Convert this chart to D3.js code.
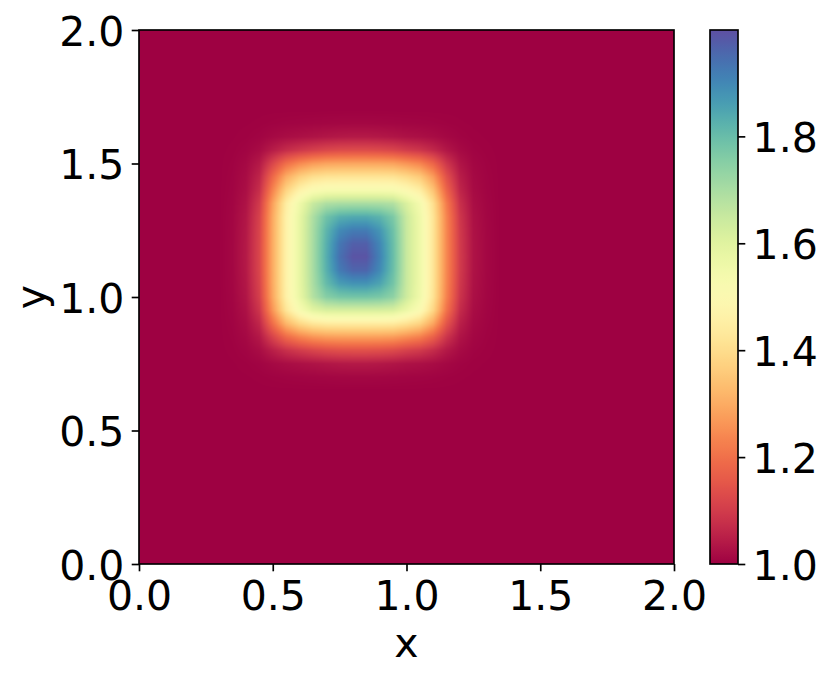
<!DOCTYPE html>
<html><head><meta charset="utf-8">
<script src="https://cdn.jsdelivr.net/npm/d3@7"></script>
<style>
body{margin:0;background:#fff}
svg{display:block}
text{font-family:"DejaVu Sans",sans-serif;fill:#000}
</style>
</head><body><svg id="chart" width="830" height="679"></svg>
<script>
// grid node coordinates (x and y)
const xNodes = [0,0.05,0.1,0.15,0.2,0.25,0.3,0.35,0.4,0.45,0.5,0.55,0.6,0.65,0.7,0.75,0.8,0.85,0.9,0.95,1,1.05,1.1,1.15,1.2,1.25,1.3,1.35,1.4,1.45,1.5,1.55,1.6,1.65,1.7,1.75,1.8,1.85,1.9,1.95,2];
const yNodes = [0,0.05,0.1,0.15,0.2,0.25,0.3,0.35,0.4,0.45,0.5,0.55,0.6,0.65,0.7,0.75,0.8,0.85,0.9,0.95,1,1.05,1.1,1.15,1.2,1.25,1.3,1.35,1.4,1.45,1.5,1.55,1.6,1.65,1.7,1.75,1.8,1.85,1.9,1.95,2];
// values read along the row through the peak (y ~ 1.15), one per xNode
const rowValues = [1.00,1.00,1.00,1.00,1.00,1.00,1.00,
  1.01,1.04,1.12,1.30,1.46,1.58,1.70,1.83,1.94,1.99,1.99,1.91,1.80,1.65,1.56,1.42,1.24,1.10,1.03,1.01,
  1.00,1.00,1.00,1.00,1.00,1.00,1.00,1.00,1.00,1.00,1.00,1.00,1.00,1.00];
// values read along the column through the peak (x ~ 0.83), one per yNode
const colValues = [1.00,1.00,1.00,1.00,1.00,1.00,1.00,1.00,1.00,1.00,1.00,1.00,1.00,1.00,
  1.01,1.04,1.14,1.28,1.44,1.62,1.78,1.88,1.96,1.99,1.97,1.92,1.84,1.70,1.53,1.42,1.29,1.13,1.04,1.01,
  1.00,1.00,1.00,1.00,1.00,1.00,1.00];
// how square the level curves are: rounded at low levels, squarer near the top
const cornerSharpness = 35, cornerSharpnessMax = 10;
const axisTicks = [0.0,0.5,1.0,1.5,2.0];
const axisTickLabels = ["0.0","0.5","1.0","1.5","2.0"];
const colorTicks = [1.0,1.2,1.4,1.6,1.8];
const colorTickLabels = ["1.0","1.2","1.4","1.6","1.8"];
const colorRange = [1.0, 1.999];
const xLabel = "x", yLabel = "y";

const svg = d3.select("#chart");
const P = {left:139, right:674, top:30, bottom:564};
const CB = {left:710, right:738, top:30, bottom:564};
const FS = 41, TL = 7.3, PAD = 7.3, LW = 1.67;

const x = d3.scaleLinear().domain([0,2]).range([P.left, P.right]);
const y = d3.scaleLinear().domain([0,2]).range([P.bottom, P.top]);
const color = d3.scaleSequential(d3.interpolateSpectral).domain(colorRange);

// build grid from the read profiles
const base = 1.0;
const peak = Math.max(d3.max(rowValues), d3.max(colValues));
function combine(ru, cu){
  const a=(ru-base)/(peak-base), b=(cu-base)/(peak-base);
  if(a<=0||b<=0) return base;
  if(a>=1) return base+(peak-base)*b;
  if(b>=1) return base+(peak-base)*a;
  const k=Math.max(0.02, Math.min(cornerSharpnessMax, cornerSharpness*(a*b)*(a*b)));
  return base+(peak-base)*Math.pow(Math.pow(a,-k)+Math.pow(b,-k)-1,-1/k);
}
const grid = yNodes.map((yy,j)=>xNodes.map((xx,i)=>combine(rowValues[i],colValues[j])));

// render heat image (bilinear display smoothing)
const iw = Math.round(P.right-P.left), ih = Math.round(P.bottom-P.top);
const cv = document.createElement("canvas"); cv.width=iw; cv.height=ih;
const ctx = cv.getContext("2d");
const img = ctx.createImageData(iw, ih);
const fx = d3.scaleLinear().domain([xNodes[0], xNodes[xNodes.length-1]]).range([0, xNodes.length-1]).clamp(true);
const fy = d3.scaleLinear().domain([yNodes[0], yNodes[yNodes.length-1]]).range([0, yNodes.length-1]).clamp(true);
const nx = xNodes.length, ny = yNodes.length;
for(let r=0;r<ih;r++){
  const gy = fy(y.invert(P.top+r+0.5));
  const j0 = Math.min(Math.floor(gy), ny-2), ty = gy-j0;
  for(let c=0;c<iw;c++){
    const gx = fx(x.invert(P.left+c+0.5));
    const i0 = Math.min(Math.floor(gx), nx-2), tx = gx-i0;
    const v = (1-ty)*((1-tx)*grid[j0][i0]+tx*grid[j0][i0+1]) + ty*((1-tx)*grid[j0+1][i0]+tx*grid[j0+1][i0+1]);
    const col = d3.rgb(color(v));
    const k = (r*iw+c)*4;
    img.data[k]=col.r; img.data[k+1]=col.g; img.data[k+2]=col.b; img.data[k+3]=255;
  }
}
ctx.putImageData(img,0,0);
svg.append("image").attr("x",P.left).attr("y",P.top).attr("width",iw).attr("height",ih)
  .attr("preserveAspectRatio","none").attr("href",cv.toDataURL());

// axes
function styleAxis(g){
  g.select(".domain").remove();
  g.selectAll(".tick line").attr("stroke","#000").attr("stroke-width",LW);
  g.selectAll(".tick text").attr("font-size",FS).attr("font-family","DejaVu Sans").attr("fill","#000");
}
const gx = svg.append("g").attr("transform",`translate(0,${P.bottom})`)
  .call(d3.axisBottom(x).tickValues(axisTicks).tickFormat((d,i)=>axisTickLabels[i]).tickSize(TL).tickPadding(PAD));
styleAxis(gx);
gx.selectAll(".tick text").attr("dy",null).attr("y",46);

const gy = svg.append("g").attr("transform",`translate(${P.left},0)`)
  .call(d3.axisLeft(y).tickValues(axisTicks).tickFormat((d,i)=>axisTickLabels[i]).tickSize(TL).tickPadding(PAD));
styleAxis(gy);
gy.selectAll(".tick text").attr("dy",null).attr("y",15);

svg.append("rect").attr("x",P.left).attr("y",P.top).attr("width",P.right-P.left).attr("height",P.bottom-P.top)
  .attr("fill","none").attr("stroke","#000").attr("stroke-width",LW);

svg.append("text").attr("x",(P.left+P.right)/2).attr("y",657).attr("text-anchor","middle").attr("font-size",FS).text(xLabel);
svg.append("text").attr("transform",`translate(45,${(P.top+P.bottom)/2}) rotate(-90)`).attr("text-anchor","middle").attr("font-size",FS).text(yLabel);

// colorbar
const cScale = d3.scaleLinear().domain(colorRange).range([CB.bottom, CB.top]);
const grad = svg.append("defs").append("linearGradient").attr("id","cbgrad")
  .attr("x1",0).attr("y1",1).attr("x2",0).attr("y2",0);
d3.range(0,101).forEach(i=>{
  const t=i/100;
  grad.append("stop").attr("offset",t).attr("stop-color",color(colorRange[0]+t*(colorRange[1]-colorRange[0])));
});
svg.append("rect").attr("x",CB.left).attr("y",CB.top).attr("width",CB.right-CB.left).attr("height",CB.bottom-CB.top)
  .attr("fill","url(#cbgrad)").attr("stroke","#000").attr("stroke-width",LW);
const gc = svg.append("g").attr("transform",`translate(${CB.right},0)`)
  .call(d3.axisRight(cScale).tickValues(colorTicks).tickFormat((d,i)=>colorTickLabels[i]).tickSize(TL).tickPadding(PAD));
styleAxis(gc);
gc.selectAll(".tick text").attr("dy",null).attr("y",15);
</script></body></html>
